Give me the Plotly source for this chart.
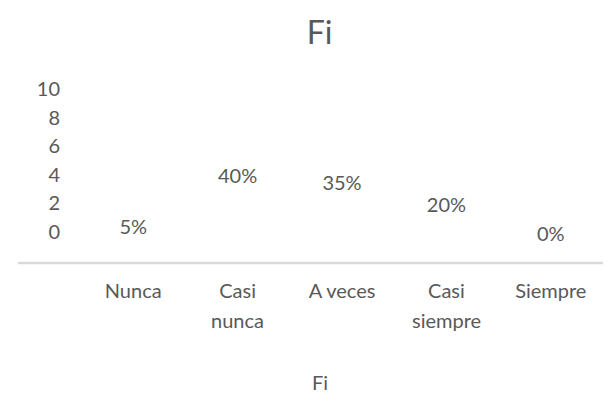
import plotly.graph_objects as go

categorias = ["Nunca", "Casi nunca", "A veces", "Casi siempre", "Siempre"]
porcentajes = [5, 40, 35, 20, 0]
etiquetas = ["5%", "40%", "35%", "20%", "0%"]
ticks_y = [0, 2, 4, 6, 8, 10]

gris = "#595959"
fuente = "Lato"

# Excel parte las etiquetas largas en dos renglones
primera = [c.split(" ")[0] if c.startswith("Casi") else c for c in categorias]
segunda = [c.split(" ", 1)[1] if c.startswith("Casi") else "" for c in categorias]

fig = go.Figure()

# eje primario (solo para mostrar la escala 0-10 del original)
fig.add_trace(go.Scatter(x=[], y=[], showlegend=False, hoverinfo="skip"))

# barras sin relleno (solo quedan las etiquetas, como en el original)
fig.add_trace(go.Scatter(x=categorias, y=porcentajes, text=etiquetas, mode="text",
                         textfont=dict(family=fuente, size=20, color=gris),
                         yaxis="y2", showlegend=False, hoverinfo="skip"))

anots = [dict(text=s, x=c, xref="x", yref="paper", y=-0.292, yanchor="middle",
              showarrow=False, font=dict(family=fuente, size=20, color=gris))
         for c, s in zip(categorias, segunda) if s]
anots.append(dict(text="Fi", xref="paper", yref="paper", x=0.458, y=-0.61,
                  yanchor="middle", showarrow=False,
                  font=dict(family=fuente, size=20, color=gris)))

fig.update_layout(
    width=611, height=405,
    margin=dict(l=73, r=16, t=60, b=150),
    paper_bgcolor="white", plot_bgcolor="white",
    title=dict(text="Fi", x=0.51, xanchor="center", y=0.94, yanchor="middle",
               font=dict(family=fuente, size=32, color=gris)),
    xaxis=dict(type="category", range=[-0.5, 4.5], tickvals=categorias, ticktext=primera,
               showgrid=False, zeroline=False, showline=False, ticks="",
               ticklabelstandoff=14, tickfont=dict(family=fuente, size=20, color=gris)),
    yaxis=dict(range=[-2.17, 11.47], tickvals=ticks_y, showgrid=False, zeroline=False,
               showline=False, ticks="", ticklabelstandoff=20,
               tickfont=dict(family=fuente, size=20, color=gris)),
    yaxis2=dict(range=[-18.62, 115.86], overlaying="y", visible=False),
    shapes=[dict(type="line", xref="paper", yref="paper", x0=-0.1207, x1=1.0307, y0=0, y1=0,
                 line=dict(color="#d9d9d9", width=2.5))],
    annotations=anots,
)

fig.write_html("out.html")
